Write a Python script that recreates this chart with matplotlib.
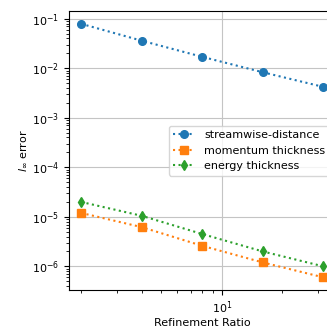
import matplotlib
matplotlib.use("Agg")
import matplotlib.pyplot as plt

# refinement ratios and errors
ratio = [2, 4, 8, 16, 32]
streamwise = [0.079, 0.036, 0.017, 0.0083, 0.0042]
momentum = [1.2e-5, 6.2e-6, 2.6e-6, 1.2e-6, 6.0e-7]
energy = [2.0e-5, 1.05e-5, 4.5e-6, 2.0e-6, 1.0e-6]

plt.rcParams['font.size'] = 8

fig = plt.figure(figsize=(3.27, 3.27), dpi=100)
# axes runs past the right edge, like the cropped original
ax = fig.add_axes([0.211, 0.113, 0.815, 0.853])

ax.plot(ratio, streamwise, ':o', markersize=5.5, label='streamwise-distance')
ax.plot(ratio, momentum, ':s', markersize=5.5, label='momentum thickness')
ax.plot(ratio, energy, ':d', markersize=5.5, label='energy thickness')

ax.set_xscale('log')
ax.set_yscale('log')
ax.grid(True, which='major', color='#c4c4c4')
ax.set_xlabel('Refinement Ratio', labelpad=1)
ax.set_ylabel(r'$l_\infty$ error', labelpad=2)
ax.legend(loc='center right')

fig.savefig('out.png', dpi=100)
